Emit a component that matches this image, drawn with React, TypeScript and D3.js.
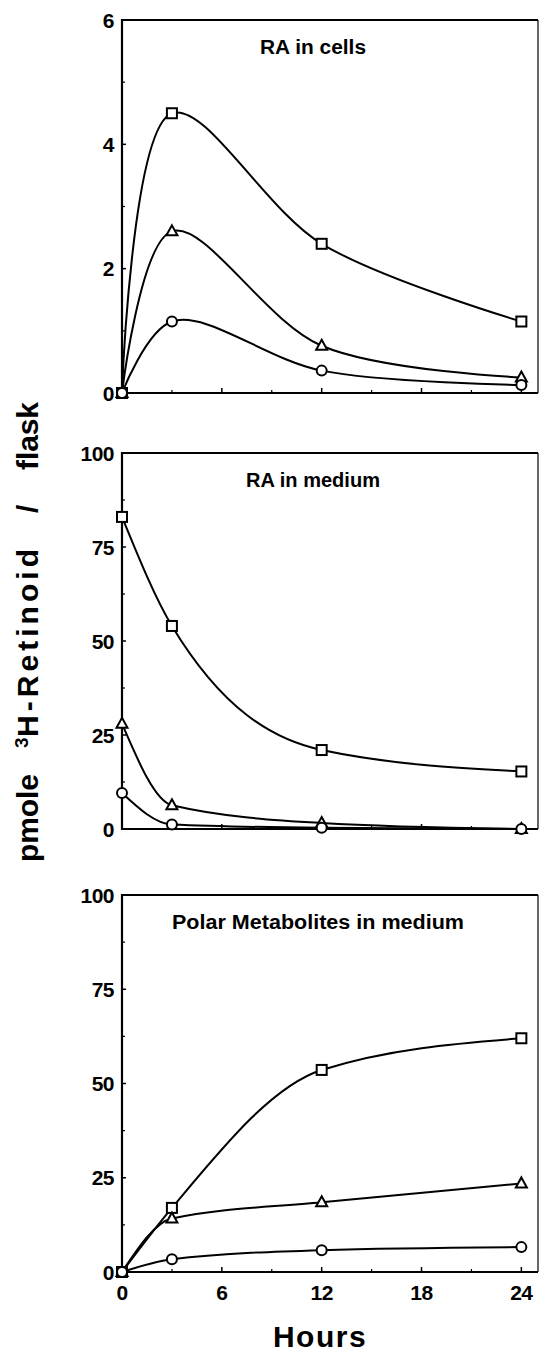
import React from "react";
import * as d3 from "d3";

const hours = [0, 3, 12, 24];
const xTicksMajor = [0, 6, 12, 18, 24];
const xTicksMinor = [3, 9, 15, 21];

const panelTitles = ["RA in cells", "RA in medium", "Polar Metabolites in medium"];
const yMaxes = [6, 100, 100];
const yTickLabels = [["0", "2", "4", "6"], ["0", "25", "50", "75", "100"], ["0", "25", "50", "75", "100"]];
const yMinorSteps = [1, 12.5, 12.5];

// RA in cells
const cellsSquare = [0, 4.5, 2.4, 1.15];
const cellsTriangle = [0, 2.6, 0.76, 0.25];
const cellsCircle = [0, 1.15, 0.36, 0.13];
// RA in medium
const mediumSquare = [83, 54, 21, 15.3];
const mediumTriangle = [28, 6.3, 1.6, 0];
const mediumCircle = [9.6, 1.2, 0.3, 0];
// Polar metabolites in medium
const polarSquare = [0, 17, 53.6, 62];
const polarTriangle = [0, 14.2, 18.5, 23.5];
const polarCircle = [0, 3.4, 5.8, 6.6];

const panelSeries = [
  [cellsSquare, cellsTriangle, cellsCircle],
  [mediumSquare, mediumTriangle, mediumCircle],
  [polarSquare, polarTriangle, polarCircle],
];
const markers = ["square", "triangle", "circle"];

const yTitleWords = ["pmole", "H-Retinoid", "/", "flask"];

const W = 539;
const H = 1354;
const xLeft = 122;
const xRight = 538;
const panelTops = [20, 453, 895];
const panelBottoms = [393, 829, 1272];
const titleXs = [313, 313, 318];
const titleLengths = [106, 134, 292];

const FONT = "'Liberation Sans', Arial, Helvetica, sans-serif";

function Marker({ type, x, y }: { type: string; x: number; y: number }) {
  const s = 5;
  if (type === "square")
    return <rect x={x - s} y={y - s} width={2 * s} height={2 * s} fill="white" stroke="black" strokeWidth={2} />;
  if (type === "triangle")
    return (
      <path
        d={`M${x},${y - 6}L${x + 5.5},${y + 4}L${x - 5.5},${y + 4}Z`}
        fill="white"
        stroke="black"
        strokeWidth={2}
      />
    );
  return <circle cx={x} cy={y} r={5} fill="white" stroke="black" strokeWidth={2} />;
}

function Panel({ i }: { i: number }) {
  const x = d3.scaleLinear().domain([0, 25]).range([xLeft, xRight]);
  const y = d3.scaleLinear().domain([0, yMaxes[i]]).range([panelBottoms[i], panelTops[i]]);
  const line = d3
    .line<[number, number]>()
    .x((d) => x(d[0]))
    .y((d) => y(d[1]))
    .curve(i === 0 ? d3.curveCatmullRom.alpha(0.5) : d3.curveMonotoneX);
  const majorVals = yTickLabels[i].map(Number);
  const minorVals = d3.range(yMinorSteps[i], yMaxes[i], yMinorSteps[i] * 2);
  const top = panelTops[i];
  const bottom = panelBottoms[i];
  return (
    <g>
      {/* frame */}
      <line x1={xLeft} x2={xRight} y1={top} y2={top} stroke="black" strokeWidth={2} />
      <line x1={xRight} x2={xRight} y1={top} y2={bottom} stroke="black" strokeWidth={1.2} />
      <line x1={xLeft} x2={xLeft} y1={top - 1} y2={bottom + 1} stroke="black" strokeWidth={2.2} />
      <line x1={xLeft - 1} x2={xRight} y1={bottom} y2={bottom} stroke="black" strokeWidth={2.2} />
      {/* y ticks */}
      {majorVals.map((v) => (
        <line key={"ym" + v} x1={xLeft} x2={xLeft + 4} y1={y(v)} y2={y(v)} stroke="black" strokeWidth={1.5} />
      ))}
      {minorVals.map((v) => (
        <line key={"yn" + v} x1={xLeft} x2={xLeft + 3} y1={y(v)} y2={y(v)} stroke="black" strokeWidth={1.2} />
      ))}
      {yTickLabels[i].map((t) => (
        <text
          key={"yl" + t}
          x={xLeft - 8}
          y={y(Number(t))}
          dy="0.36em"
          textAnchor="end"
          fontFamily={FONT}
          fontWeight="bold"
          fontSize={21}
          letterSpacing={-0.5}
        >
          {t}
        </text>
      ))}
      {/* x ticks */}
      {xTicksMajor.map((v) => (
        <line key={"xm" + v} x1={x(v)} x2={x(v)} y1={bottom} y2={bottom - 5} stroke="black" strokeWidth={1.5} />
      ))}
      {xTicksMinor.map((v) => (
        <line key={"xn" + v} x1={x(v)} x2={x(v)} y1={bottom} y2={bottom - 3} stroke="black" strokeWidth={1.2} />
      ))}
      {i === 2 &&
        xTicksMajor.map((v) => (
          <text
            key={"xl" + v}
            x={x(v)}
            y={bottom + 28}
            textAnchor="middle"
            fontFamily={FONT}
            fontWeight="bold"
            fontSize={21}
            letterSpacing={-0.5}
          >
            {v}
          </text>
        ))}
      {/* title */}
      <text
        x={titleXs[i]}
        y={top + 34}
        textAnchor="middle"
        fontFamily={FONT}
        fontWeight="bold"
        fontSize={20}
        textLength={titleLengths[i]}
        lengthAdjust="spacingAndGlyphs"
      >
        {panelTitles[i]}
      </text>
      {/* series */}
      {panelSeries[i].map((vals, si) => {
        const pts: [number, number][] = hours.map((h, k) => [h, vals[k]]);
        return <path key={"s" + si} d={line(pts) || ""} fill="none" stroke="black" strokeWidth={2} />;
      })}
      {panelSeries[i].map((vals, si) =>
        hours.map((h, k) => <Marker key={"m" + si + "-" + k} type={markers[si]} x={x(h)} y={y(vals[k])} />)
      )}
    </g>
  );
}

export default function App() {
  return (
    <svg
      width={W}
      height={H}
      viewBox={`0 0 ${W} ${H}`}
      style={{ position: "absolute", left: 0, top: 0, background: "white" }}
    >
      <rect x={0} y={0} width={W} height={H} fill="white" />
      {[0, 1, 2].map((i) => (
        <Panel key={i} i={i} />
      ))}
      <g transform="translate(38,862) rotate(-90)" fontFamily={FONT} fontWeight="bold" fontSize={30}>
        <text x={0} textLength={88} lengthAdjust="spacing">
          {yTitleWords[0]}
        </text>
        <text x={114} fontSize={19} dy={-10}>
          3
        </text>
        <text x={125} textLength={188} lengthAdjust="spacing">
          {yTitleWords[1]}
        </text>
        <text x={349}>{yTitleWords[2]}</text>
        <text x={392} textLength={68} lengthAdjust="spacing">
          {yTitleWords[3]}
        </text>
      </g>
      <text
        x={320}
        y={1347}
        textAnchor="middle"
        fontFamily={FONT}
        fontWeight="bold"
        fontSize={30}
        letterSpacing={1.5}
      >
        Hours
      </text>
    </svg>
  );
}
